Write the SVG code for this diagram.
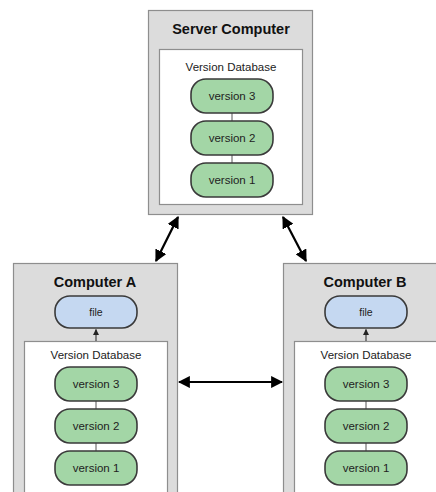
<svg xmlns="http://www.w3.org/2000/svg" width="436" height="492" viewBox="0 0 436 492">
  <style>
    .box { fill: #dcdcdc; stroke: #8e8e8e; stroke-width: 1.2; }
    .db { fill: #ffffff; stroke: #8e8e8e; stroke-width: 1.2; }
    .ver { fill: #a3d6a6; stroke: #3a3a3a; stroke-width: 1.6; }
    .file { fill: #c5d8f1; stroke: #3a3a3a; stroke-width: 1.6; }
    .link { stroke: #555; stroke-width: 1; }
    .title { font-family: "Liberation Sans", Arial, sans-serif; font-size: 14.5px; font-weight: bold; fill: #111; text-anchor: middle; }
    .label { font-family: "Liberation Sans", Arial, sans-serif; font-size: 11.5px; fill: #222; text-anchor: middle; }
    .fname { font-family: "Liberation Sans", Arial, sans-serif; font-size: 10.5px; fill: #222; text-anchor: middle; }
    .conn { stroke: #000; stroke-width: 2.2; fill: none; }
    .small { stroke: #222; stroke-width: 1; fill: none; }
  </style>
  <defs>
    <marker id="head" viewBox="0 0 10 10" refX="9" refY="5" markerWidth="5.5" markerHeight="5.5" orient="auto-start-reverse" markerUnits="strokeWidth">
      <path d="M0,0 L10,5 L0,10 z" fill="#000"/>
    </marker>
    <marker id="tiny" viewBox="0 0 10 10" refX="9" refY="5" markerWidth="6" markerHeight="6" orient="auto" markerUnits="strokeWidth">
      <path d="M0,0 L10,5 L0,10 z" fill="#222"/>
    </marker>
  </defs>

  <!-- server -->
  <g id="server">
    <rect class="box" x="148.5" y="10.5" width="164" height="204"/>
    <text class="title" x="231" y="34">Server Computer</text>
    <rect class="db" x="159.5" y="49.5" width="143" height="155"/>
    <text class="label" x="231" y="71">Version Database</text>
    <line class="link" x1="232" y1="113" x2="232" y2="121"/>
    <line class="link" x1="232" y1="155" x2="232" y2="163"/>
    <rect class="ver" x="191" y="79" width="82" height="34" rx="15"/>
    <text class="label" x="232" y="100">version 3</text>
    <rect class="ver" x="191" y="121" width="82" height="34" rx="15"/>
    <text class="label" x="232" y="142">version 2</text>
    <rect class="ver" x="191" y="163" width="82" height="34" rx="15"/>
    <text class="label" x="232" y="184">version 1</text>
  </g>

  <!-- computer A -->
  <g id="computerA">
    <rect class="box" x="13.5" y="263.5" width="164" height="240"/>
    <text class="title" x="95" y="287">Computer A</text>
    <rect class="file" x="55" y="296" width="82" height="32" rx="15"/>
    <text class="fname" x="96" y="316">file</text>
    <rect class="db" x="24.5" y="341.5" width="143" height="200"/>
    <line class="small" x1="96" y1="341" x2="96" y2="329.5" marker-end="url(#tiny)"/>
    <text class="label" x="96" y="359">Version Database</text>
    <line class="link" x1="96" y1="401" x2="96" y2="409"/>
    <line class="link" x1="96" y1="443" x2="96" y2="451"/>
    <rect class="ver" x="55" y="367" width="82" height="34" rx="15"/>
    <text class="label" x="96" y="388">version 3</text>
    <rect class="ver" x="55" y="409" width="82" height="34" rx="15"/>
    <text class="label" x="96" y="430">version 2</text>
    <rect class="ver" x="55" y="451" width="82" height="34" rx="15"/>
    <text class="label" x="96" y="472">version 1</text>
  </g>

  <!-- computer B -->
  <g id="computerB">
    <rect class="box" x="283.5" y="263.5" width="200" height="240"/>
    <text class="title" x="365" y="287">Computer B</text>
    <rect class="file" x="325" y="296" width="82" height="32" rx="15"/>
    <text class="fname" x="366" y="316">file</text>
    <rect class="db" x="294.5" y="341.5" width="200" height="200"/>
    <line class="small" x1="366" y1="341" x2="366" y2="329.5" marker-end="url(#tiny)"/>
    <text class="label" x="366" y="359">Version Database</text>
    <line class="link" x1="366" y1="401" x2="366" y2="409"/>
    <line class="link" x1="366" y1="443" x2="366" y2="451"/>
    <rect class="ver" x="325" y="367" width="82" height="34" rx="15"/>
    <text class="label" x="366" y="388">version 3</text>
    <rect class="ver" x="325" y="409" width="82" height="34" rx="15"/>
    <text class="label" x="366" y="430">version 2</text>
    <rect class="ver" x="325" y="451" width="82" height="34" rx="15"/>
    <text class="label" x="366" y="472">version 1</text>
  </g>

  <!-- connectors -->
  <g id="connectors">
    <line class="conn" x1="178" y1="217" x2="156" y2="261" marker-start="url(#head)" marker-end="url(#head)"/>
    <line class="conn" x1="283" y1="217" x2="306" y2="261" marker-start="url(#head)" marker-end="url(#head)"/>
    <line class="conn" x1="179" y1="382" x2="282" y2="382" marker-start="url(#head)" marker-end="url(#head)"/>
  </g>
</svg>
